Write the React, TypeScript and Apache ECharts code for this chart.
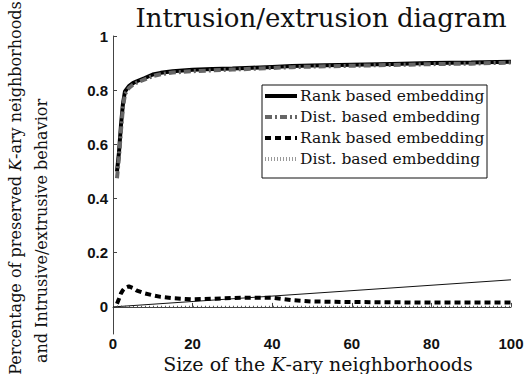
import React, { useEffect, useRef } from "react";
import * as echarts from "echarts";

// Neighbourhood sizes K at which the curves were sampled
const kValues = [1, 1.5, 2, 2.5, 3, 4, 5, 6, 8, 10, 12, 15, 20, 25, 30, 35, 40, 45, 50, 60, 70, 80, 90, 100];

// Percentage of preserved K-ary neighbourhoods
const rankQuality = [0.5, 0.57, 0.67, 0.75, 0.795, 0.815, 0.826, 0.833, 0.845, 0.858, 0.864, 0.87, 0.875, 0.878, 0.88, 0.883, 0.886, 0.889, 0.891, 0.894, 0.897, 0.9, 0.902, 0.905];
const distQuality = [0.475, 0.55, 0.65, 0.735, 0.785, 0.808, 0.82, 0.828, 0.84, 0.852, 0.859, 0.865, 0.87, 0.873, 0.876, 0.879, 0.882, 0.885, 0.887, 0.89, 0.893, 0.896, 0.898, 0.902];

// Intrusive/extrusive behaviour
const rankBehavior = [0.012, 0.03, 0.05, 0.062, 0.07, 0.076, 0.07, 0.06, 0.05, 0.043, 0.037, 0.032, 0.028, 0.03, 0.033, 0.034, 0.034, 0.025, 0.02, 0.018, 0.017, 0.016, 0.016, 0.016];
const distBehavior = [0.003, 0.003, 0.003, 0.002, 0.002, 0.002, 0.002, 0.002, 0.002, 0.002, 0.002, 0.002, 0.002, 0.002, 0.002, 0.002, 0.002, 0.002, 0.002, 0.002, 0.002, 0.002, 0.002, 0.002];

// Random-embedding baseline
const baselineK = [0, 100];
const baselineValue = [0, 0.1];

const yTicks = [0, 0.2, 0.4, 0.6, 0.8, 1];
const xTicks = [0, 20, 40, 60, 80, 100];

const legendLabels = [
  "Rank based embedding",
  "Dist. based embedding",
  "Rank based embedding",
  "Dist. based embedding",
];

const pair = (xs: number[], ys: number[]) => xs.map((x, i) => [x, ys[i]]);

const serif = "DejaVu Serif";
const sans = "Liberation Sans";

// Line styles shared by the plotted curves and their legend keys
const styles = [
  { color: "#000", width: 4, dash: null as number[] | null },
  { color: "#666", width: 4, dash: [7, 3, 2, 3] },
  { color: "#000", width: 4, dash: [6, 4] },
  { color: "#555", width: 1.2, dash: [1, 3] },
];
const legendKeyStyles = [styles[0], styles[1], styles[2], { color: "#999", width: 4, dash: [1, 2] }];

export default function App() {
  const ref = useRef<HTMLDivElement>(null);

  useEffect(() => {
    if (!ref.current) return;
    const chart = echarts.init(ref.current, null, { renderer: "svg" });

    const legendBox = { x: 262, y: 85, w: 225, h: 93, row0: 11, rowGap: 21 };
    const legendItems: any[] = [
      {
        type: "rect",
        shape: { x: 0, y: 0, width: legendBox.w, height: legendBox.h },
        style: { fill: "#fff", stroke: "#111", lineWidth: 1 },
      },
    ];
    legendLabels.forEach((label, i) => {
      const s = legendKeyStyles[i];
      const cy = legendBox.row0 + i * legendBox.rowGap;
      legendItems.push({
        type: "line",
        shape: { x1: 3, y1: cy, x2: 35, y2: cy },
        style: { stroke: s.color, lineWidth: s.width, lineDash: s.dash || undefined },
      });
      legendItems.push({
        type: "text",
        x: 38,
        y: cy,
        style: {
          text: label,
          fontFamily: serif,
          fontSize: 15.5,
          fill: "#111",
          align: "left",
          verticalAlign: "middle",
        },
      });
    });

    const lineSeries = (data: number[][], s: typeof styles[number], z: number) => ({
      type: "line",
      data,
      symbol: "none",
      color: s.color,
      lineStyle: { color: s.color, width: s.width, type: s.dash || "solid" },
      z,
    });

    chart.setOption({
      animation: false,
      backgroundColor: "#ffffff",
      title: {
        text: "Intrusion/extrusion diagram",
        left: 316,
        textAlign: "center",
        top: 0,
        textStyle: { fontFamily: serif, fontWeight: "normal", fontSize: 26, color: "#111" },
      },
      grid: { left: 113, right: 17, top: 36, bottom: 40 },
      xAxis: {
        type: "value",
        min: 0,
        max: 100,
        interval: 20,
        axisLine: { lineStyle: { color: "#444", width: 1 } },
        axisTick: { inside: true, length: 4, lineStyle: { color: "#444" } },
        splitLine: { show: false },
        axisLabel: {
          customValues: xTicks,
          fontFamily: sans,
          fontWeight: "bold",
          fontSize: 15,
          color: "#111",
          margin: 2,
        },
      },
      yAxis: {
        type: "value",
        min: -0.1,
        max: 1,
        axisLine: { show: true, lineStyle: { color: "#444", width: 1 } },
        axisTick: { show: true, inside: true, length: 4, customValues: yTicks, lineStyle: { color: "#444" } },
        splitLine: { show: false },
        axisLabel: {
          customValues: yTicks,
          formatter: (v: number) => String(Math.round(v * 10) / 10),
          fontFamily: sans,
          fontWeight: "bold",
          fontSize: 15,
          color: "#111",
          margin: 5,
        },
      },
      graphic: [
        {
          type: "text",
          x: 15,
          y: 188,
          rotation: Math.PI / 2,
          style: {
            text: "Percentage of preserved {k|K}-ary neighborhoods",
            rich: { k: { fontStyle: "italic", fontFamily: serif, fontSize: 16 } },
            fontFamily: serif,
            fontSize: 16,
            fill: "#111",
            align: "center",
            verticalAlign: "middle",
          },
        },
        {
          type: "text",
          x: 41,
          y: 231,
          rotation: Math.PI / 2,
          style: {
            text: "and Intrusive/extrusive behavior",
            fontFamily: serif,
            fontSize: 16,
            fill: "#111",
            align: "center",
            verticalAlign: "middle",
          },
        },
        {
          type: "text",
          x: 318,
          y: 364,
          style: {
            text: "Size of the {k|K}-ary neighborhoods",
            rich: { k: { fontStyle: "italic", fontFamily: serif, fontSize: 19 } },
            fontFamily: serif,
            fontSize: 19,
            fill: "#111",
            align: "center",
            verticalAlign: "middle",
          },
        },
        {
          type: "group",
          x: legendBox.x,
          y: legendBox.y,
          z: 100,
          children: legendItems,
        },
      ],
      series: [
        {
          type: "line",
          data: pair(baselineK, baselineValue),
          symbol: "none",
          lineStyle: { color: "#111", width: 1 },
          z: 1,
        },
        lineSeries(pair(kValues, distBehavior), styles[3], 2),
        lineSeries(pair(kValues, rankQuality), styles[0], 3),
        lineSeries(pair(kValues, distQuality), styles[1], 4),
        lineSeries(pair(kValues, rankBehavior), styles[2], 5),
      ],
    });
    return () => chart.dispose();
  }, []);

  return (
    <div
      ref={ref}
      style={{ position: "fixed", left: 0, top: 0, width: 528, height: 374 }}
    />
  );
}
